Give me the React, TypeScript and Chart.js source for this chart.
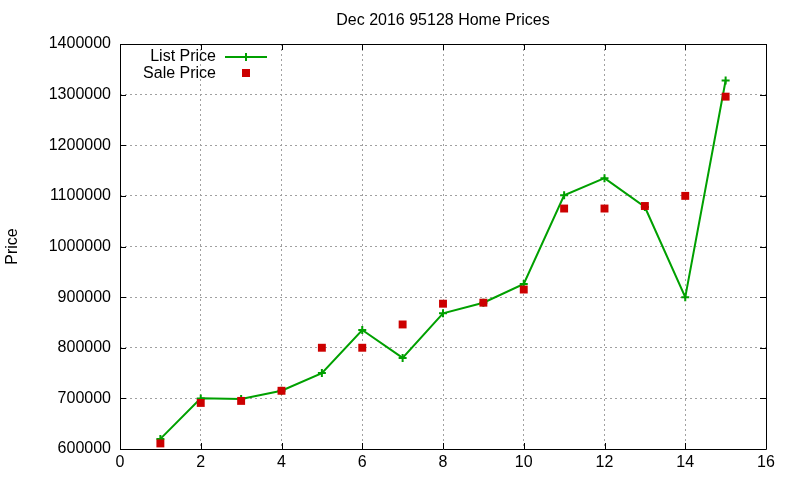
import React, { useEffect, useRef } from "react";
import { Chart, registerables } from "chart.js";

Chart.register(...registerables);

const TITLE = "Dec 2016 95128 Home Prices";
const Y_LABEL = "Price";
const months = [1, 2, 3, 4, 5, 6, 7, 8, 9, 10, 11, 12, 13, 14, 15];
const listPrice = [620000, 700000, 699000, 715000, 750000, 835000, 780000, 868000, 889000, 926000, 1101000, 1135000, 1078000, 900000, 1328000];
const salePrice = [611000, 691000, 695000, 715000, 800000, 800000, 846000, 887000, 889000, 915000, 1075000, 1075000, 1080000, 1100000, 1296000];
const LIST_LABEL = "List Price";
const SALE_LABEL = "Sale Price";

const GREEN = "#00a000";
const RED = "#cc0000";
const FONT = "'Liberation Sans', Arial, sans-serif";
const FS = 16;

const framePlugin = {
  id: "gnuframe",
  afterDraw(chart: any) {
    const { ctx, chartArea: a, scales } = chart;
    const tl = 6;
    ctx.save();
    ctx.strokeStyle = "#000";
    ctx.lineWidth = 1;
    ctx.beginPath();
    ctx.rect(Math.round(a.left) + 0.5, Math.round(a.top) + 0.5, Math.round(a.right - a.left), Math.round(a.bottom - a.top));
    ctx.stroke();
    ctx.beginPath();
    scales.x.ticks.forEach((t: any) => {
      const x = Math.round(scales.x.getPixelForValue(t.value)) + 0.5;
      ctx.moveTo(x, a.bottom);
      ctx.lineTo(x, a.bottom - tl);
      ctx.moveTo(x, a.top);
      ctx.lineTo(x, a.top + tl);
    });
    scales.y.ticks.forEach((t: any) => {
      const y = Math.round(scales.y.getPixelForValue(t.value)) + 0.5;
      ctx.moveTo(a.left, y);
      ctx.lineTo(a.left + tl, y);
      ctx.moveTo(a.right, y);
      ctx.lineTo(a.right - tl, y);
    });
    ctx.stroke();

    // legend (gnuplot style, inside top-left)
    ctx.font = `${FS}px ${FONT}`;
    ctx.fillStyle = "#000";
    ctx.textAlign = "right";
    ctx.textBaseline = "middle";
    const tx = a.left + 96;
    const y1 = a.top + 12;
    const y2 = a.top + 29;
    ctx.fillText(LIST_LABEL, tx, y1 + 1);
    ctx.fillText(SALE_LABEL, tx, y2 + 1);
    const sx = tx + 30;
    ctx.strokeStyle = GREEN;
    ctx.lineWidth = 2;
    ctx.beginPath();
    ctx.moveTo(tx + 9, y1 + 1);
    ctx.lineTo(tx + 51, y1 + 1);
    ctx.moveTo(sx, y1 - 3);
    ctx.lineTo(sx, y1 + 5);
    ctx.stroke();
    ctx.fillStyle = RED;
    ctx.fillRect(sx - 4, y2 - 4, 8, 8);
    ctx.restore();
  },
};

export default function App() {
  const ref = useRef<HTMLCanvasElement>(null);
  useEffect(() => {
    const chart = new Chart(ref.current!, {
      type: "line",
      data: {
        datasets: [
          {
            label: LIST_LABEL,
            data: months.map((m, i) => ({ x: m, y: listPrice[i] })),
            borderColor: GREEN,
            backgroundColor: GREEN,
            borderWidth: 2,
            pointStyle: "cross",
            pointRadius: 4,
            pointBorderWidth: 2,
            tension: 0,
            order: 2,
          },
          {
            label: SALE_LABEL,
            data: months.map((m, i) => ({ x: m, y: salePrice[i] })),
            borderColor: RED,
            backgroundColor: RED,
            showLine: false,
            pointStyle: "rect",
            pointRadius: 5.6,
            pointBorderWidth: 0,
            order: 1,
          },
        ],
      },
      options: {
        animation: false,
        responsive: true,
        maintainAspectRatio: false,
        layout: { padding: { top: 0, right: 34, bottom: 0, left: 0 } },
        plugins: {
          legend: { display: false },
          tooltip: { enabled: false },
          title: {
            display: true,
            text: TITLE,
            fullSize: false,
            color: "#000",
            font: { family: FONT, size: FS, weight: "normal", lineHeight: 1.2 },
            padding: { top: 11.4, bottom: 13.4 },
          },
        },
        scales: {
          x: {
            type: "linear",
            min: 0,
            max: 16,
            ticks: { stepSize: 2, color: "#000", font: { family: FONT, size: FS }, padding: 4, maxRotation: 0 },
            grid: { color: "#a0a0a0", drawTicks: false, lineWidth: 1 },
            border: { display: false, dash: [2, 3] },
            afterFit: (s: any) => { s.height = 31; },
          },
          y: {
            type: "linear",
            min: 600000,
            max: 1400000,
            ticks: {
              stepSize: 100000,
              color: "#000",
              font: { family: FONT, size: FS },
              padding: 9,
              callback: (v: any) => String(v),
            },
            grid: { color: "#a0a0a0", drawTicks: false, lineWidth: 1 },
            border: { display: false, dash: [2, 3] },
            title: {
              display: true,
              text: Y_LABEL,
              color: "#000",
              font: { family: FONT, size: FS, lineHeight: 1.2 },
              padding: { top: 3, bottom: 0 },
            },
            afterFit: (s: any) => { s.width = 120; },
          },
        },
      },
      plugins: [framePlugin],
    });
    return () => chart.destroy();
  }, []);
  return (
    <div style={{ position: "fixed", left: 0, top: 0, width: 800, height: 480, background: "#fff" }}>
      <canvas ref={ref} />
    </div>
  );
}
